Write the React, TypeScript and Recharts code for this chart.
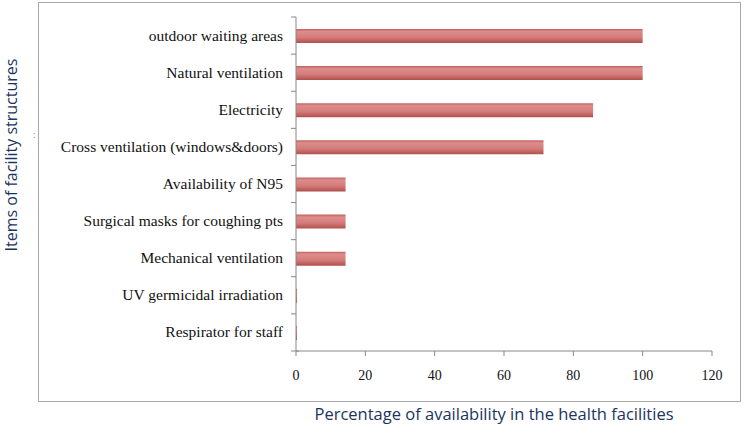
import { BarChart, Bar, XAxis, YAxis, Label } from 'recharts';

const items = [
  'outdoor waiting areas',
  'Natural ventilation',
  'Electricity',
  'Cross ventilation (windows&doors)',
  'Availability of N95',
  'Surgical masks for coughing pts',
  'Mechanical ventilation',
  'UV  germicidal irradiation',
  'Respirator for staff',
];

const availability = [100, 100, 85.7, 71.4, 14.3, 14.3, 14.3, 0.3, 0.3];

const xTicks = [0, 20, 40, 60, 80, 100, 120];

const data = items.map((name, i) => ({ name, value: availability[i] }));

const W = 744;
const H = 436;
const M = { top: 17, right: 32, bottom: 15, left: 0 };
const Y_AXIS_W = 296;
const X_AXIS_H = 70;
const band = (H - M.top - M.bottom - X_AXIS_H) / items.length;

const serif = '"Liberation Serif", "Times New Roman", serif';
const sans = '"Open Sans", "Noto Sans", sans-serif';
const titleColor = '#1c355e';

// category tick: label + tick marks on band edges like Excel
function ItemTick(props: any) {
  const { x, y, payload, index } = props;
  const last = index === items.length - 1;
  return (
    <g>
      <line x1={x + 8} x2={x + 13} y1={y - band / 2} y2={y - band / 2} stroke="#888" />
      {last && <line x1={x + 8} x2={x + 16} y1={y + band / 2} y2={y + band / 2} stroke="#888" />}
      <text x={x} y={y} dy={5} textAnchor="end" fontFamily={serif} fontSize={15.5} fill="#111">
        {payload.value}
      </text>
    </g>
  );
}

export default function App() {
  return (
    <div style={{ position: 'absolute', left: 0, top: 0, width: W, height: H, background: '#fff' }}>
      <div
        style={{
          position: 'absolute',
          left: 38,
          top: 2,
          width: 703,
          height: 400,
          border: '1.5px solid #a8a8a8',
          boxSizing: 'border-box',
        }}
      />
      <div style={{ position: 'absolute', left: 0, top: 0 }}>
        <BarChart width={W} height={H} data={data} layout="vertical" margin={M}>
          <defs>
            <linearGradient id="barFill" x1="0" y1="0" x2="0" y2="1">
              <stop offset="0%" stopColor="#c4605d" />
              <stop offset="18%" stopColor="#dc8d8c" />
              <stop offset="60%" stopColor="#d47c7b" />
              <stop offset="100%" stopColor="#b04f4c" />
            </linearGradient>
          </defs>
          <XAxis
            type="number"
            domain={[0, 120]}
            ticks={xTicks}
            height={X_AXIS_H}
            stroke="#888"
            tickSize={5}
            tick={{ fill: '#111', fontFamily: serif, fontSize: 14 }}
            tickMargin={14}
          >
            <Label
              content={() => (
                <text
                  x={494}
                  y={420}
                  textAnchor="middle"
                  fontFamily={sans}
                  fontSize={16.5}
                  fill={titleColor}
                >
                  Percentage of availability in the health facilities
                </text>
              )}
            />
          </XAxis>
          <YAxis
            type="category"
            dataKey="name"
            width={Y_AXIS_W}
            stroke="#888"
            tickLine={false}
            tick={<ItemTick />}
            tickMargin={7}
          >
            <Label
              content={() => (
                <g>
                  <text
                    x={17}
                    y={155}
                    transform="rotate(-90 17 155)"
                    textAnchor="middle"
                    fontFamily={sans}
                    fontSize={16}
                    fill={titleColor}
                  >
                    Items of facility structures
                  </text>
                  <text x={33} y={138} fontFamily={sans} fontSize={9} fill="#4a78c0">:</text>
                </g>
              )}
            />
          </YAxis>
          <Bar dataKey="value" fill="url(#barFill)" barSize={14} isAnimationActive={false} />
        </BarChart>
      </div>
    </div>
  );
}
